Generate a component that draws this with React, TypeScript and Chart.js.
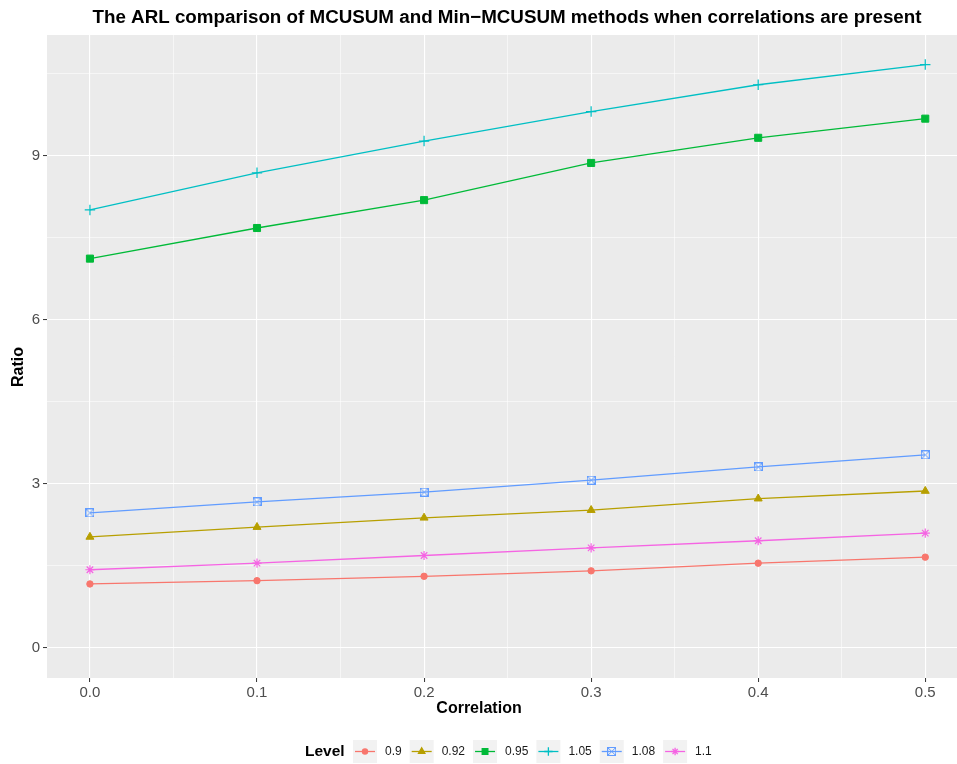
import React, { useEffect, useRef } from "react";
import { Chart, registerables } from "chart.js";
import { drawPoint } from "chart.js/helpers";

Chart.register(...registerables);

// ---- data ----
const correlation = [0, 0.1, 0.2, 0.3, 0.4, 0.5];
const levels = ["0.9", "0.92", "0.95", "1.05", "1.08", "1.1"];
const ratio090 = [1.17, 1.23, 1.31, 1.41, 1.55, 1.66];
const ratio092 = [2.03, 2.21, 2.38, 2.52, 2.73, 2.87];
const ratio095 = [7.12, 7.68, 8.19, 8.87, 9.33, 9.68];
const ratio105 = [8.01, 8.69, 9.27, 9.81, 10.3, 10.67];
const ratio108 = [2.47, 2.67, 2.85, 3.07, 3.31, 3.53];
const ratio110 = [1.43, 1.55, 1.69, 1.83, 1.96, 2.1];
const seriesValues = [ratio090, ratio092, ratio095, ratio105, ratio108, ratio110];

const yMajorTicks = [0, 3, 6, 9];
const yGridValues = [0, 1.5, 3, 4.5, 6, 7.5, 9, 10.5];
const xMajorTicks = [0, 0.1, 0.2, 0.3, 0.4, 0.5];
const xGridValues = [0, 0.05, 0.1, 0.15, 0.2, 0.25, 0.3, 0.35, 0.4, 0.45, 0.5];

const titleText =
  "The ARL comparison of MCUSUM and Min\u2212MCUSUM methods when correlations are present";

const colors = ["#F8766D", "#B79F00", "#00BA38", "#00BFC4", "#619CFF", "#F564E3"];

function makeSquareCross(color: string): HTMLCanvasElement {
  const c = document.createElement("canvas");
  c.width = 9;
  c.height = 9;
  const g = c.getContext("2d")!;
  g.strokeStyle = color;
  g.lineWidth = 1;
  g.strokeRect(0.5, 0.5, 8, 8);
  g.beginPath();
  g.moveTo(1, 1);
  g.lineTo(8, 8);
  g.moveTo(8, 1);
  g.lineTo(1, 8);
  g.stroke();
  return c;
}

const FONT = "'Liberation Sans', Arial, Helvetica, sans-serif";

function isMajor(v: number, majors: number[]) {
  return majors.some((m) => Math.abs(m - v) < 1e-9);
}

function noPad(s: any) {
  s.paddingLeft = 0;
  s.paddingRight = 0;
  s.paddingTop = 0;
  s.paddingBottom = 0;
}

export default function App() {
  const ref = useRef<HTMLCanvasElement | null>(null);

  useEffect(() => {
    document.body.style.margin = "0";
    const canvas = ref.current!;
    const sqx = makeSquareCross(colors[4]);
    const pointStyles: any[] = ["circle", "triangle", "rect", "cross", sqx, "star"];
    const radii = [3.2, 4.6, 5, 5.2, 4.5, 4.6];

    const datasets = levels.map((lv, i) => ({
      label: lv,
      data: correlation.map((x, j) => ({ x, y: seriesValues[i][j] })),
      borderColor: colors[i],
      backgroundColor: colors[i],
      borderWidth: 1.3,
      pointStyle: pointStyles[i],
      pointRadius: radii[i],
      pointBorderWidth: i === 3 || i === 5 ? 1.2 : 1,
      pointBackgroundColor: colors[i],
      pointBorderColor: colors[i],
      tension: 0,
      fill: false,
      clip: false,
    }));

    const decor = {
      id: "decor",
      beforeDraw(chart: any) {
        const { ctx, chartArea } = chart;
        const { left, top, right, bottom } = chartArea;
        ctx.save();
        ctx.fillStyle = "#FFFFFF";
        ctx.fillRect(0, 0, chart.width, chart.height);
        ctx.fillStyle = "#EBEBEB";
        ctx.fillRect(left, top, right - left, bottom - top);
        ctx.restore();
      },
      afterDraw(chart: any) {
        const { ctx } = chart;
        ctx.save();
        // title
        ctx.fillStyle = "#000000";
        ctx.font = `bold 18.8px ${FONT}`;
        ctx.textAlign = "center";
        ctx.textBaseline = "middle";
        ctx.fillText(titleText, 507, 18);
        // x axis title
        ctx.font = `bold 16px ${FONT}`;
        ctx.fillText("Correlation", 479, 709);
        // y axis title
        ctx.save();
        ctx.translate(19, 367);
        ctx.rotate(-Math.PI / 2);
        ctx.fillText("Ratio", 0, 0);
        ctx.restore();
        // legend
        const ly = 751.5;
        ctx.textAlign = "left";
        ctx.font = `bold 15.5px ${FONT}`;
        ctx.fillText("Level", 305, ly);
        let x = 353;
        ctx.font = `12px ${FONT}`;
        levels.forEach((lv, i) => {
          ctx.fillStyle = "#F2F2F2";
          ctx.fillRect(x, 740, 24, 23);
          ctx.strokeStyle = colors[i];
          ctx.lineWidth = 1.3;
          ctx.beginPath();
          ctx.moveTo(x + 2, ly);
          ctx.lineTo(x + 22, ly);
          ctx.stroke();
          ctx.fillStyle = colors[i];
          ctx.strokeStyle = colors[i];
          drawPoint(
            ctx,
            {
              pointStyle: pointStyles[i],
              radius: radii[i] * 0.8,
              rotation: 0,
              borderWidth: i === 3 || i === 5 ? 1.2 : 1,
            } as any,
            x + 12,
            ly
          );
          ctx.fillStyle = "#1A1A1A";
          const tx = x + 32;
          ctx.fillText(lv, tx, ly);
          const w = ctx.measureText(lv).width;
          x = tx + w + 8;
        });
        ctx.restore();
      },
    };

    const tickFont = { family: FONT, size: 15 };

    const chart = new Chart(canvas, {
      type: "line",
      data: { datasets } as any,
      options: {
        animation: false,
        responsive: false,
        devicePixelRatio: 1,
        layout: { autoPadding: false, padding: { top: 35, left: 0, right: 0, bottom: 0 } },
        plugins: {
          legend: { display: false },
          title: { display: false },
          tooltip: { enabled: false },
        },
        scales: {
          x: {
            type: "linear",
            min: -0.0257,
            max: 0.519,
            afterBuildTicks: (s: any) => {
              s.ticks = xGridValues.map((v) => ({ value: v }));
            },
            afterFit: (s: any) => {
              s.height = 86;
              noPad(s);
            },
            ticks: {
              autoSkip: false,
              maxRotation: 0,
              padding: 2,
              color: "#4D4D4D",
              font: tickFont,
              callback: (v: any) => (isMajor(Number(v), xMajorTicks) ? Number(v).toFixed(1) : ""),
            },
            grid: {
              color: "#FFFFFF",
              lineWidth: (c: any) => (isMajor(c.tick.value, xMajorTicks) ? 1.1 : 0.55),
              tickColor: (c: any) => (isMajor(c.tick.value, xMajorTicks) ? "#333333" : "rgba(0,0,0,0)"),
              tickLength: 4,
              tickWidth: 1,
            },
            border: { display: false },
          },
          y: {
            type: "linear",
            min: -0.55,
            max: 11.21,
            afterBuildTicks: (s: any) => {
              s.ticks = yGridValues.map((v) => ({ value: v }));
            },
            afterFit: (s: any) => {
              s.width = 47;
              noPad(s);
            },
            ticks: {
              autoSkip: false,
              padding: 3,
              color: "#4D4D4D",
              font: tickFont,
              callback: (v: any) => (isMajor(Number(v), yMajorTicks) ? String(v) : ""),
            },
            grid: {
              color: "#FFFFFF",
              lineWidth: (c: any) => (isMajor(c.tick.value, yMajorTicks) ? 1.1 : 0.55),
              tickColor: (c: any) => (isMajor(c.tick.value, yMajorTicks) ? "#333333" : "rgba(0,0,0,0)"),
              tickLength: 4,
              tickWidth: 1,
            },
            border: { display: false },
          },
        },
      } as any,
      plugins: [decor],
    });

    return () => chart.destroy();
  }, []);

  return <canvas ref={ref} width={957} height={764} style={{ display: "block" }} />;
}
